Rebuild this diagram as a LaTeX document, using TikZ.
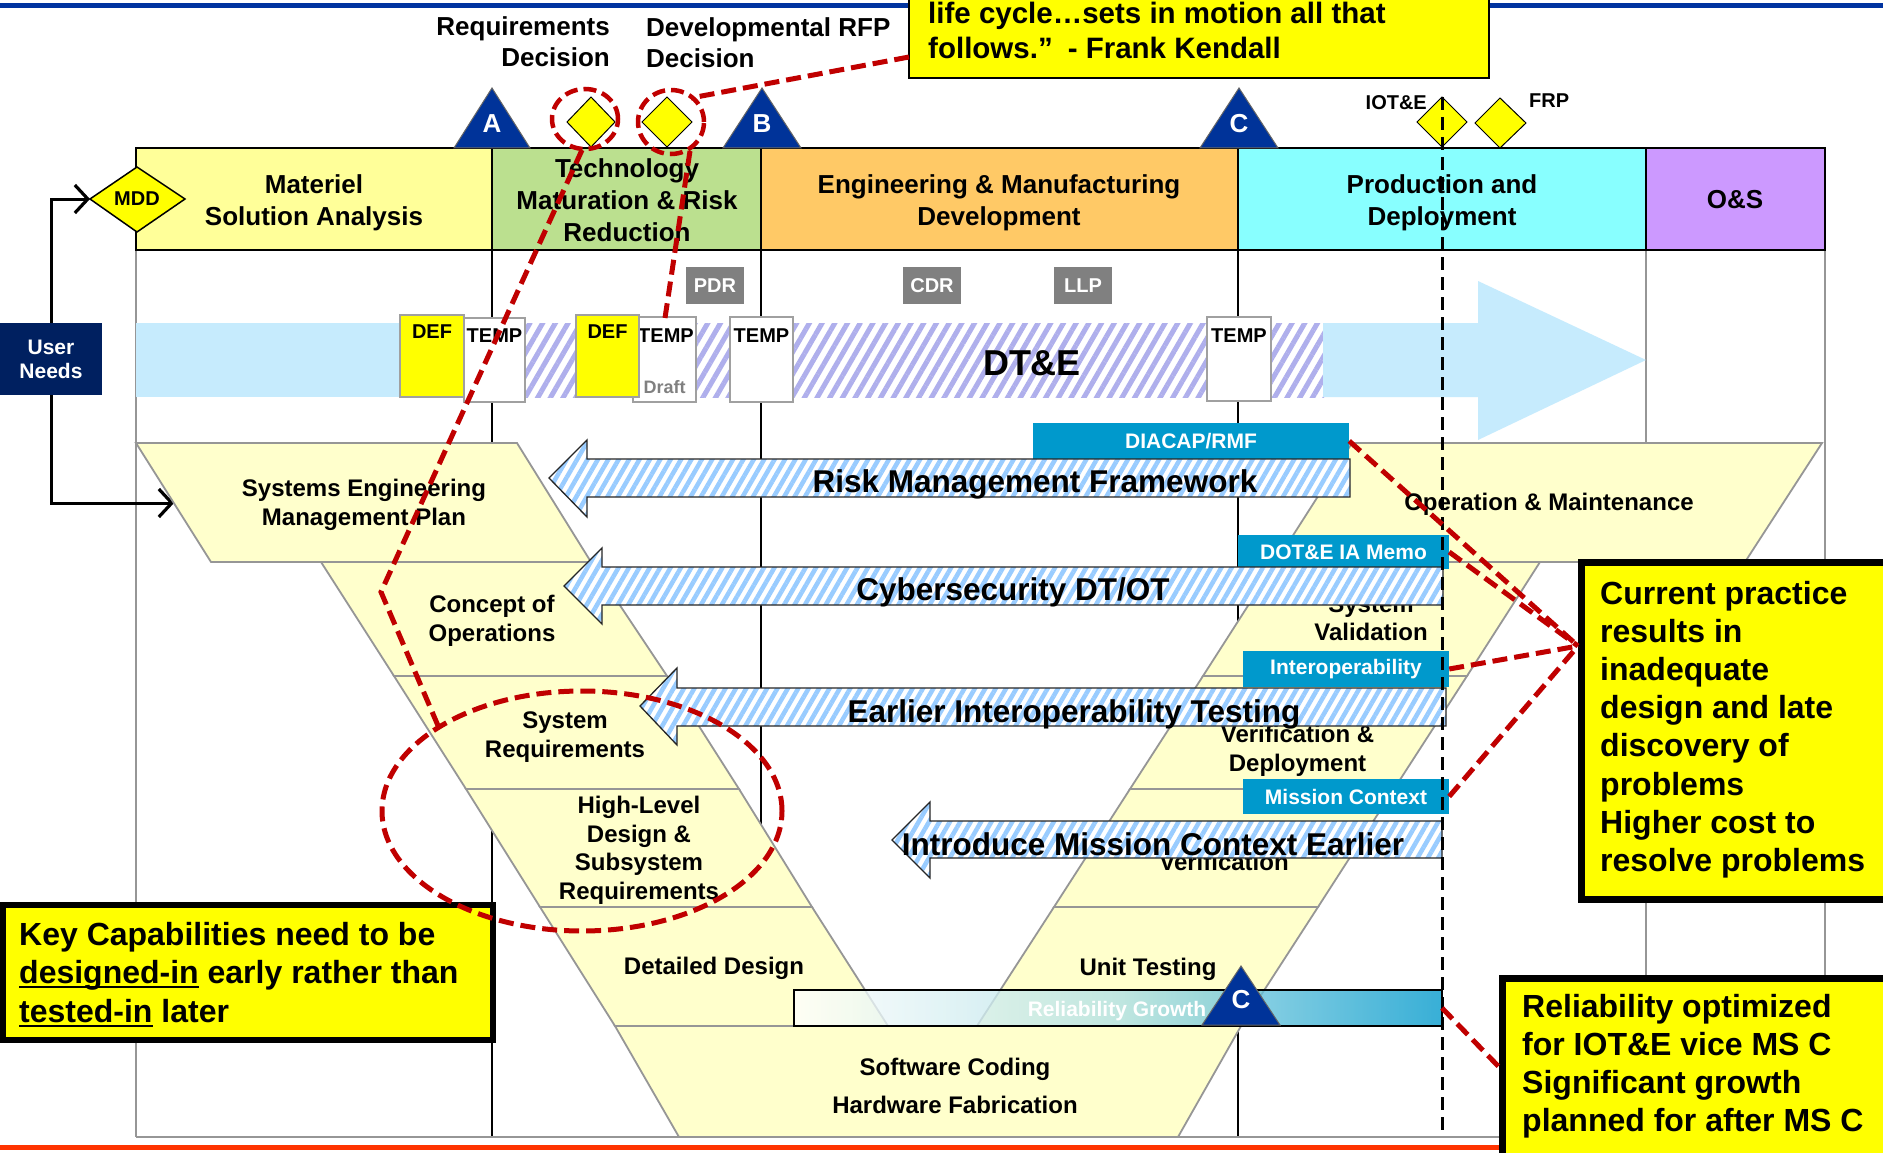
\documentclass[tikz,border=0pt]{standalone}
\usepackage{fontspec}
\setmainfont{Liberation Sans}
\usetikzlibrary{arrows.meta,patterns.meta}
\definecolor{topblue}{RGB}{0,51,160}
\definecolor{botred}{RGB}{255,51,0}
\definecolor{msaY}{RGB}{255,255,153}
\definecolor{tmrrG}{RGB}{187,224,143}
\definecolor{emdO}{RGB}{255,201,102}
\definecolor{pdC}{RGB}{136,255,255}
\definecolor{osP}{RGB}{204,153,255}
\definecolor{msBlue}{RGB}{0,51,153}
\definecolor{vYel}{RGB}{255,255,204}
\definecolor{vGray}{RGB}{150,150,150}
\definecolor{bandBlue}{RGB}{198,235,253}
\definecolor{lavH}{RGB}{175,175,236}
\definecolor{hatchB}{RGB}{153,204,255}
\definecolor{tealC}{RGB}{0,153,204}
\definecolor{tealMid}{RGB}{175,224,230}
\definecolor{relLeft}{RGB}{255,255,255}
\definecolor{redD}{RGB}{192,0,0}
\definecolor{navyU}{RGB}{0,32,96}
\definecolor{revG}{RGB}{128,128,128}
\definecolor{docG}{RGB}{160,160,160}
\definecolor{yelC}{RGB}{255,255,0}
\newcommand\myfs[2]{\fontsize{#1}{#2}\selectfont\bfseries}
\newcommand\myul[1]{\setbox0\hbox{#1}\rlap{\rule[-5pt]{\wd0}{2.5pt}}\box0\relax}
\begin{document}
\begin{tikzpicture}[x=1pt,y=-1pt,
  txt/.style={inner sep=0pt,text=black},
  hdr/.style={txt,font=\myfs{26}{32},align=center},
  vtxt/.style={txt,font=\myfs{24}{28.5},align=center},
  vsingle/.style={txt,font=\myfs{24}{28.5},anchor=base},
  vpiece/.style={fill=vYel,draw=vGray,line width=1.8pt},
  gridblack/.style={line width=2pt,black},
  gridgray/.style={line width=1.6pt,vGray},
  hatcharrow/.style={preaction={fill=white},pattern={Lines[angle=60,distance=9pt,line width=4.5pt]},pattern color=hatchB,draw=black!85,line width=1.3pt},
  arrtxt/.style={txt,anchor=base,font=\myfs{31.5}{36}},
  tealbox/.style={fill=tealC,inner sep=0pt,text=white,font=\myfs{21}{25}},
  docbox/.style={draw=docG,line width=2pt,fill=white},
  doctxt/.style={txt,anchor=base,font=\myfs{20}{24}},
  revbox/.style={fill=revG,inner sep=0pt,text=white,font=\myfs{20}{24},minimum width=58pt,minimum height=37pt},
  redline/.style={draw=redD,line width=5pt,dash pattern=on 15pt off 7pt},
  mstone/.style={fill=msBlue,draw=black!60,line width=1pt},
  mstxt/.style={txt,anchor=base,text=white,font=\myfs{26}{30}},
  diam/.style={fill=yelC,draw=black,line width=1pt},
  callout/.style={fill=yelC,draw=black,line width=7pt},
  calltxt/.style={txt,anchor=base west,font=\myfs{32}{38}},
  conn/.style={line width=3pt,-{Straight Barb[length=13pt,width=28pt,line width=3.2pt]}},
]
\clip (0,0) rectangle (1883,1153);
\fill[white] (0,0) rectangle (1883,1153);
% frame lines
\draw[line width=5pt,topblue] (0,6) -- (1883,6);
\draw[line width=5pt,botred] (0,1147) -- (1883,1147);
% grid
\foreach \x in {492,761,1238} \draw[gridblack] (\x,250) -- (\x,1137);
\foreach \x in {136,1646,1825} \draw[gridgray] (\x,250) -- (\x,1137);
\draw[gridgray] (136,1137) -- (1825,1137);
% header
\draw[line width=2pt,fill=msaY] (136,148) rectangle (492,250);
\draw[line width=2pt,fill=tmrrG] (492,148) rectangle (761,250);
\draw[line width=2pt,fill=emdO] (761,148) rectangle (1238,250);
\draw[line width=2pt,fill=pdC] (1238,148) rectangle (1646,250);
\draw[line width=2pt,fill=osP] (1646,148) rectangle (1825,250);
\node[hdr] (hmsa) at (314,203) {Materiel\\Solution Analysis};
\node[hdr] (htmrr) at (627,200) {Technology\\Maturation \& Risk\\Reduction};
\node[hdr] (hemd) at (999,203) {Engineering \& Manufacturing\\Development};
\node[hdr] (hpd) at (1442,203) {Production and\\Deployment};
\node[hdr] (hos) at (1735,200) {O\&S};
% milestones
\draw[mstone] (454,148) -- (492,88) -- (530,148) -- cycle;
\node[mstxt] (msa) at (492,133) {A};
\draw[mstone] (723,148) -- (762,88) -- (801,148) -- cycle;
\node[mstxt] (msb) at (762,133) {B};
\draw[mstone] (1200,148) -- (1239,88) -- (1278,148) -- cycle;
\node[mstxt] (msc) at (1239,133) {C};
% decision diamonds
\draw[diam] (567,122) -- (591,97) -- (615,122) -- (591,147) -- cycle;
\draw[diam] (642,122) -- (667,97) -- (692,122) -- (667,147) -- cycle;
\draw[diam] (1417,122) -- (1442,97) -- (1467,122) -- (1442,147) -- cycle;
\draw[diam] (1475,123) -- (1500,98) -- (1526,123) -- (1500,148) -- cycle;
\node[txt,anchor=base east,font=\myfs{26}{31}] (rq1) at (610,36) {Requirements};
\node[txt,anchor=base east,font=\myfs{26}{31}] (rq2) at (610,67) {Decision};
\node[txt,anchor=base west,font=\myfs{26}{31}] (rf1) at (646,37) {Developmental RFP};
\node[txt,anchor=base west,font=\myfs{26}{31}] (rf2) at (646,68) {Decision};
\node[txt,anchor=base east,font=\myfs{20}{24}] (iotl) at (1427,110) {IOT\&E};
\node[txt,anchor=base west,font=\myfs{20}{24}] (frpl) at (1529,108) {FRP};
% DT&E band
\fill[bandBlue] (136,323) rectangle (400,397);
\path[preaction={fill=white},pattern={Lines[angle=60,distance=11pt,line width=5pt]},pattern color=lavH] (440,323) rectangle (1324,397);
\fill[bandBlue] (1323,323) -- (1478,323) -- (1478,281) -- (1646,360) -- (1478,440) -- (1478,397) -- (1323,397) -- cycle;
\node[txt,anchor=base,font=\myfs{36}{40}] (dte) at (1032,375) {DT\&E};
% documents
\draw[docbox] (464,318) rectangle (525,402);
\node[doctxt] (temp1) at (494.5,342) {TEMP};
\draw[docbox,fill=yelC] (400,315) rectangle (464,397);
\node[doctxt] (def1) at (432,338) {DEF};
\draw[docbox] (633,317) rectangle (696,402);
\node[doctxt] (temp2) at (666,342) {TEMP};
\node[txt,anchor=base,text=revG,font=\myfs{18}{22}] (draft) at (664.5,393) {Draft};
\draw[docbox,fill=yelC] (576,315) rectangle (639,397);
\node[doctxt] (def2) at (607.5,338) {DEF};
\draw[docbox] (730,317) rectangle (793,402);
\node[doctxt] (temp3) at (761.5,342) {TEMP};
\draw[docbox] (1207,317) rectangle (1271,401);
\node[doctxt] (temp4) at (1239,342) {TEMP};
\node[revbox] (pdr) at (715,285.5) {PDR};
\node[revbox] (cdr) at (932,285.5) {CDR};
\node[revbox] (llp) at (1083,285.5) {LLP};
% user needs and MDD
\node[fill=navyU,minimum width=102pt,minimum height=72pt,inner sep=0pt,text=white,align=center,font=\myfs{21}{24}] (user) at (51,359) {User\\Needs};
\draw[diam,line width=1.5pt] (90,199) -- (137,167) -- (185,199) -- (137,232) -- cycle;
\node[txt,font=\myfs{20}{24}] (mdd) at (137,199) {MDD};
\coordinate (mddin) at (90,199);
\coordinate (sempin) at (174,503);
\draw[conn] (user.north) |- (mddin);
\draw[conn] (user.south) |- (sempin);
% V left arm
\draw[vpiece] (136,443) -- (517,443) -- (591,562) -- (211,562) -- cycle;
\draw[vpiece] (321,562) -- (591,562) -- (667,676) -- (394,676) -- cycle;
\draw[vpiece] (394,676) -- (667,676) -- (739,789) -- (466,789) -- cycle;
\draw[vpiece] (466,789) -- (739,789) -- (812,907) -- (540,907) -- cycle;
\draw[vpiece] (540,907) -- (812,907) -- (888,1026) -- (615,1026) -- cycle;
\draw[vpiece] (615,1026) -- (1241,1026) -- (1178,1137) -- (679,1137) -- cycle;
% V right arm
\draw[vpiece] (1352,443) -- (1822,443) -- (1745,562) -- (1276,562) -- cycle;
\draw[vpiece] (1276,562) -- (1540,562) -- (1467,676) -- (1203,676) -- cycle;
\draw[vpiece] (1203,676) -- (1467,676) -- (1394,789) -- (1130,789) -- cycle;
\draw[vpiece] (1130,789) -- (1394,789) -- (1318,907) -- (1054,907) -- cycle;
\draw[vpiece] (1054,907) -- (1318,907) -- (1241,1026) -- (977,1026) -- cycle;
% V texts
\node[vtxt] (semp) at (364,505) {Systems Engineering\\Management Plan};
\node[vtxt] (conops) at (492,621) {Concept of\\Operations};
\node[vtxt] (sysreq) at (565,737) {System\\Requirements};
\node[vtxt] (hld) at (639,850.5) {High-Level\\Design \&\\Subsystem\\Requirements};
\node[vsingle] (dd) at (714,974) {Detailed Design};
\node[vsingle] (swc) at (955,1075) {Software Coding};
\node[vsingle] (hwf) at (955,1113) {Hardware Fabrication};
\node[vsingle] (ut) at (1148,975) {Unit Testing};
\node[vsingle] (ver) at (1224,870) {Verification};
\node[vtxt] (vd) at (1297.5,751) {Verification \&\\Deployment};
\node[vtxt] (sv) at (1371,618) {System\\Validation};
\node[vsingle] (om) at (1549,510) {Operation \& Maintenance};
% teal boxes
\node[tealbox,minimum width=316pt,minimum height=36pt] (diacap) at (1191,441) {DIACAP/RMF};
\node[tealbox,minimum width=211pt,minimum height=34pt] (dote) at (1343.5,552) {DOT\&E IA Memo};
\node[tealbox,minimum width=206pt,minimum height=36pt] (interop) at (1346,669) {Interoperability};
\node[tealbox,minimum width=206pt,minimum height=35pt] (mission) at (1346,796.5) {Mission Context};
% hatched arrows
\path[hatcharrow] (549,478) -- (587,440) -- (587,459) -- (1350,459) -- (1350,497) -- (587,497) -- (587,517) -- cycle;
\node[arrtxt] (rmf) at (1035,492) {Risk Management Framework};
\path[hatcharrow] (564,586) -- (602,548) -- (602,567) -- (1443,567) -- (1443,605) -- (602,605) -- (602,624) -- cycle;
\node[arrtxt] (cyber) at (1013,600) {Cybersecurity DT/OT};
\path[hatcharrow] (640,706) -- (677,668) -- (677,688) -- (1446,688) -- (1446,726) -- (677,726) -- (677,745) -- cycle;
\node[arrtxt] (eit) at (1074,722) {Earlier Interoperability Testing};
\path[hatcharrow] (892,840) -- (930,802) -- (930,821) -- (1442,821) -- (1442,858) -- (930,858) -- (930,878) -- cycle;
\node[arrtxt] (imce) at (1153,855) {Introduce Mission Context Earlier};
% IOT&E dashed line
\coordinate (iottop) at (1442,97);
\coordinate (iotbot) at (1442,1135);
\draw[line width=3pt,dash pattern=on 13pt off 7pt] (iottop) -- (iotbot);
% reliability growth bar
\shade[left color=relLeft,right color=tealC,middle color=tealMid,fill opacity=0.78] (794,990) rectangle (1442,1026);
\draw[line width=2pt] (794,990) rectangle (1442,1026);
\node[txt,anchor=base,text=white,font=\myfs{21}{25}] (relg) at (1117,1016) {Reliability Growth};
\draw[mstone] (1202,1025) -- (1241,966) -- (1280,1025) -- cycle;
\node[mstxt] (msc2) at (1241,1008) {C};
% callout boxes
\draw[fill=yelC,line width=2.5pt] (909,-10) rectangle (1489,78);
\node[txt,anchor=base west,font=\myfs{29.5}{35}] (q1) at (928,24) {life cycle…sets in motion all that};
\node[txt,anchor=base west,font=\myfs{29.5}{35}] (q2) at (928,59) {follows.”\hspace{15pt}- Frank Kendall};
\draw[callout] (1581.5,562.5) rectangle (1900,899.5);
\foreach \t [count=\i from 0] in {Current practice, results in, inadequate, design and late, discovery of, problems, Higher cost to, resolve problems}
  \node[calltxt] (cp\i) at (1600,604.5+38.1*\i) {\t};
\draw[callout] (1502.5,978.5) rectangle (1900,1170);
\foreach \t [count=\i from 0] in {Reliability optimized, for IOT\&E vice MS C, Significant growth, planned for after MS C}
  \node[calltxt] (ro\i) at (1522,1017+38.3*\i) {\t};
\draw[callout,line width=6pt] (3,905) rectangle (493,1040);
\node[calltxt] (kc0) at (19,945) {Key Capabilities need to be};
\node[calltxt] (kc1) at (19,983) {\myul{designed-in} early rather than};
\node[calltxt] (kc2) at (19,1022) {\myul{tested-in} later};
% red dashed annotations
\draw[redline,line width=4.5pt,dash pattern=on 13pt off 6pt] (585,119) ellipse [x radius=33pt,y radius=30pt];
\draw[redline,line width=4.5pt,dash pattern=on 13pt off 6pt] (671,122) ellipse [x radius=33pt,y radius=32pt];
\draw[redline] (582,811) ellipse [x radius=200pt,y radius=120pt];
\coordinate (qleft) at (909,57);
\coordinate (c2r) at (691,98);
\coordinate (c1b) at (582,150);
\coordinate (kink) at (381,592);
\coordinate (bigtop) at (439,728);
\coordinate (c2b) at (690,151);
\coordinate (tempd) at (665,318);
\coordinate (cpin) at (1578,646);
\coordinate (relend) at (1442,1008);
\coordinate (roin) at (1500,1068);
\draw[redline] (qleft) -- (c2r);
\draw[redline] (c1b) -- (kink) -- (bigtop);
\draw[redline] (c2b) -- (tempd);
\draw[redline] (diacap.east) -- (cpin);
\draw[redline] (dote.east) -- (cpin);
\draw[redline] (interop.east) -- (cpin);
\draw[redline] (mission.east) -- (cpin);
\draw[redline] (relend) -- (roin);
\end{tikzpicture}
\end{document}
